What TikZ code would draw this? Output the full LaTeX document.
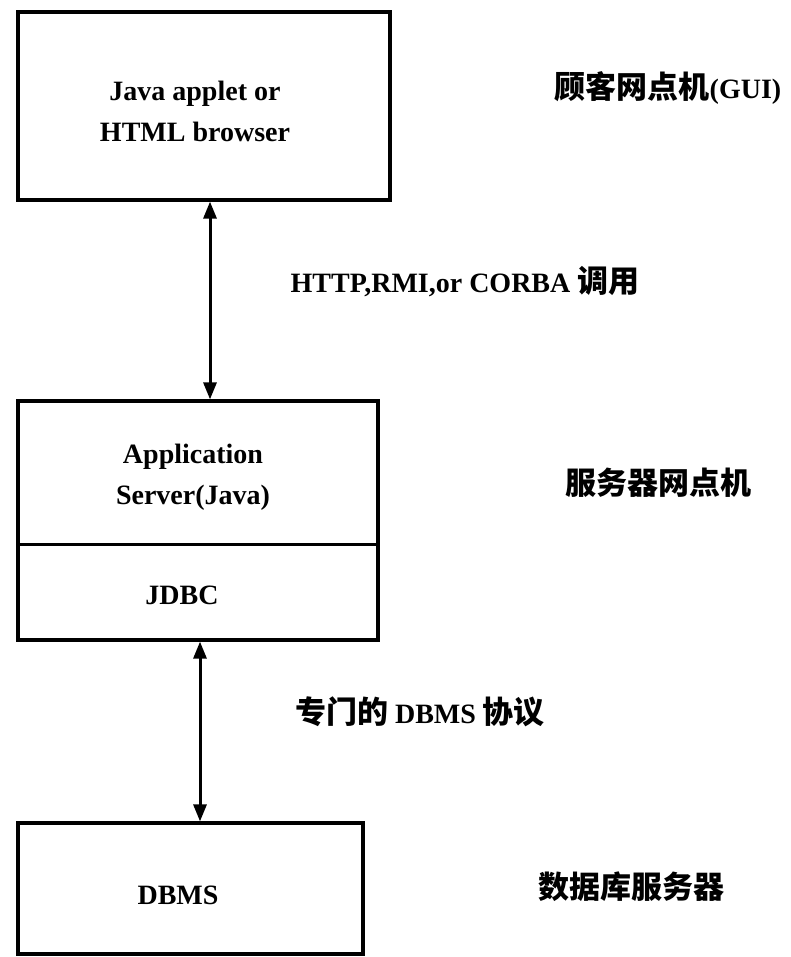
\documentclass[tikz,border=0pt]{standalone}
\usepackage{fontspec}
\setmainfont{Liberation Serif}
\newfontfamily\cjk{Noto Sans CJK SC}
\usetikzlibrary{arrows.meta}
\begin{document}
\begin{tikzpicture}[x=1pt,y=-1pt,
  box/.style={draw,line width=3.2pt,inner sep=0pt},
  rule/.style={line width=3pt},
  txt/.style={font=\fontsize{28}{41}\selectfont\bfseries,align=center,inner sep=0pt},
  lbl/.style={font=\fontsize{28}{34}\selectfont\bfseries,inner sep=0pt},
  zh/.style={font=\fontsize{31}{34}\selectfont\bfseries\cjk,inner sep=0pt},
  link/.style={line width=3pt,{Triangle[length=17pt,width=13pt]}-{Triangle[length=17pt,width=13pt]}}]
\useasboundingbox (0,0) rectangle (790,957);
% boxes
\node[box,minimum width=372pt,minimum height=188pt] (client) at (204,106) {};
\node[box,minimum width=360pt,minimum height=239pt] (server) at (198,520.5) {};
\node[box,minimum width=345pt,minimum height=131pt] (db) at (190.5,888.5) {};
\coordinate (div) at (0,544);
\draw[rule] (server.west |- div) -- (server.east |- div);
% box texts
\node[txt] (clienttxt) at (195,111) {Java applet or\\HTML browser};
\node[txt] (apptxt) at (193,477) {Application\\Server(Java)};
\node[txt] (jdbc) at (182,595) {JDBC};
\node[txt] (dbms) at (178,895) {DBMS};
% connectors
\coordinate (a1) at (210,0);
\coordinate (a2) at (200,0);
\draw[link] (client.south -| a1) -- (server.north -| a1);
\draw[link] (server.south -| a2) -- (db.north -| a2);
% labels
\node[lbl] (gui) at (668,88) {{\fontsize{31}{34}\selectfont\cjk 顾客网点机}(GUI)};
\node[lbl] (http) at (465,282) {HTTP,RMI,or CORBA {\fontsize{31}{34}\selectfont\cjk 调用}};
\node[zh] (srvlbl) at (658,483) {服务器网点机};
\node[lbl] (proto) at (420,712) {{\fontsize{31}{34}\selectfont\cjk 专门的} DBMS {\fontsize{31}{34}\selectfont\cjk 协议}};
\node[zh] (dblbl) at (631,887) {数据库服务器};
\end{tikzpicture}
\end{document}
